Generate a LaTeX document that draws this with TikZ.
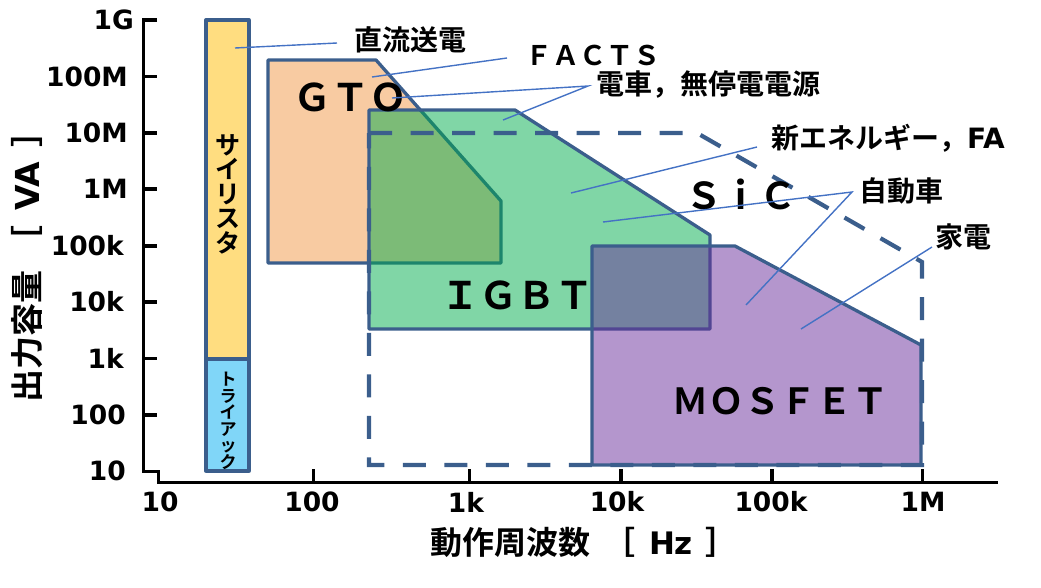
\documentclass[tikz,border=0pt]{standalone}
\usepackage{fontspec}
\setmainfont{DejaVu Sans}
\newfontfamily\jp{Noto Sans CJK JP}[BoldFont={Noto Sans CJK JP Bold}]
\definecolor{edge}{RGB}{59,94,140}
\definecolor{lead}{RGB}{68,114,196}
\definecolor{thy}{RGB}{255,221,128}
\definecolor{tri}{RGB}{128,214,248}
\definecolor{gto}{RGB}{248,203,162}
\definecolor{igbt}{RGB}{1,173,77}
\definecolor{mos}{RGB}{105,45,155}
\begin{document}
\begin{tikzpicture}[x=1pt,y=-1pt,
 region/.style={draw=edge,line width=3.3pt,line join=round},
 leader/.style={draw=lead,line width=1.4pt},
 axisline/.style={draw=black,line width=3.8pt},
 ytick/.style={font=\bfseries\fontsize{26.5}{26.5}\selectfont,anchor=east,inner sep=0},
 xtick/.style={font=\bfseries\fontsize{26.5}{26.5}\selectfont,inner sep=0},
 jlab/.style={font=\jp\bfseries\fontsize{28}{28}\selectfont,inner sep=0},
 biglab/.style={font=\jp\bfseries\fontsize{38}{38}\selectfont,inner sep=0},
]
\useasboundingbox (0,0) rectangle (1041,587);

% axes
\draw[axisline] (157,20)--(143.5,20)--(143.5,471.5)--(158.5,471.5)--(158.5,482.5)--(998,482.5);
\foreach \y in {76.4,132.8,189.2,245.6,302,358.4,414.8}
  \draw[axisline] (143.5,\y)--(157,\y);
\foreach \x in {313.5,469.5,621,772,922.5}
  \draw[axisline] (\x,482.5)--(\x,469);

% tick labels
\node[ytick] (y1G) at (134,20) {1G};
\node[ytick] (y100M) at (128,76.4) {100M};
\node[ytick] (y10M) at (128,132.8) {10M};
\node[ytick] (y1M) at (128,189.2) {1M};
\node[ytick] (y100k) at (124,245.6) {100k};
\node[ytick] (y10k) at (124,302) {10k};
\node[ytick] (y1k) at (124,358.4) {1k};
\node[ytick] (y100) at (126,414.8) {100};
\node[ytick] (y10) at (126,471.2) {10};
\node[xtick] (x10) at (160,502) {10};
\node[xtick] (x100) at (312,502) {100};
\node[xtick] (x1k) at (466,502) {1k};
\node[xtick] (x10k) at (617,502) {10k};
\node[xtick] (x100k) at (771,502) {100k};
\node[xtick] (x1M) at (923,502) {1M};

% axis titles
\node[rotate=90,font=\jp\bfseries\fontsize{33}{33}\selectfont,inner sep=0] (ylab) at (27,258.5) {出力容量\hspace{12pt}［\hspace{15pt}{\fontspec{DejaVu Sans}\bfseries VA}\hspace{15pt}］};
\node[font=\jp\bfseries\fontsize{32}{32}\selectfont,inner sep=0] (xlab) at (584,542) {動作周波数\hspace{14pt}［\hspace{13pt}{\fontspec{DejaVu Sans}\bfseries\fontsize{31}{31}\selectfont Hz}\hspace{13pt}］};

% thyristor / triac
\filldraw[region,fill=thy] (206,20) rectangle (249,359);
\filldraw[region,fill=tri] (206,359) rectangle (249,471);

% GTO
\filldraw[region,fill=gto] (268,60)--(376,60)--(501,201)--(501,263)--(268,263)--cycle;
% IGBT
\path[fill=igbt,fill opacity=0.5] (369,110)--(515,110)--(710,235)--(710,329)--(369,329)--cycle;
\draw[region] (369,110)--(515,110)--(710,235)--(710,329)--(369,329)--cycle;
% MOSFET
\path[fill=mos,fill opacity=0.5] (592,246)--(735,246)--(921,345)--(921,465)--(592,465)--cycle;
\draw[region] (592,246)--(735,246)--(921,345)--(921,465)--(592,465)--cycle;
% SiC
\draw[draw=edge,line width=4.2pt,dash pattern=on 23pt off 18.5pt] (369,133)--(697,133)--(922,262)--(922,465)--(369,465)--cycle;

% region labels
\node[font=\jp\bfseries\fontsize{25}{24.5}\selectfont,align=center,inner sep=0] (thylab) at (228,194) {サ\\イ\\リ\\ス\\タ};
\node[font=\jp\bfseries\fontsize{17}{16.5}\selectfont,align=center,inner sep=0] (trilab) at (228,421) {ト\\ラ\\イ\\ア\\ッ\\ク};
\node[biglab] (gtolab) at (350,97) {ＧＴＯ};
\node[biglab] (igbtlab) at (517,295) {ＩＧＢＴ};
\node[font=\jp\bfseries\fontsize{36}{36}\selectfont,inner sep=0] (moslab) at (780,401) {ＭＯＳＦＥＴ};
\node[font=\jp\bfseries\fontsize{37}{37}\selectfont,inner sep=0] (siclab) at (741,194) {ＳｉＣ};

% application labels
\node[jlab] (dc) at (410,40) {直流送電};
\node[font=\jp\bfseries\fontsize{27}{27}\selectfont,inner sep=0] (facts) at (593,55) {ＦＡＣＴＳ};
\node[jlab] (train) at (708,85) {電車，無停電電源};
\node[jlab] (newe) at (888,138) {新エネルギー，\fontspec{DejaVu Sans}\bfseries FA};
\node[jlab] (car) at (901,191) {自動車};
\node[jlab] (home) at (963,237) {家電};

% leader lines
\coordinate (dcA) at (235,48); \coordinate (dcB) at (337,43);
\coordinate (faA) at (372,77); \coordinate (faB) at (507,58);
\coordinate (trA) at (392,98); \coordinate (trB) at (588,86); \coordinate (trC) at (503,120);
\coordinate (neA) at (757,147); \coordinate (neB) at (571,193);
\coordinate (caA) at (603,222); \coordinate (caB) at (852,192); \coordinate (caC) at (746,305);
\coordinate (hoA) at (932,247); \coordinate (hoB) at (801,329);
\draw[leader] (dcA)--(dcB);
\draw[leader] (faA)--(faB);
\draw[leader] (trA)--(trB)--(trC);
\draw[leader] (neA)--(neB);
\draw[leader] (caA)--(caB)--(caC);
\draw[leader] (hoA)--(hoB);
\end{tikzpicture}
\end{document}
